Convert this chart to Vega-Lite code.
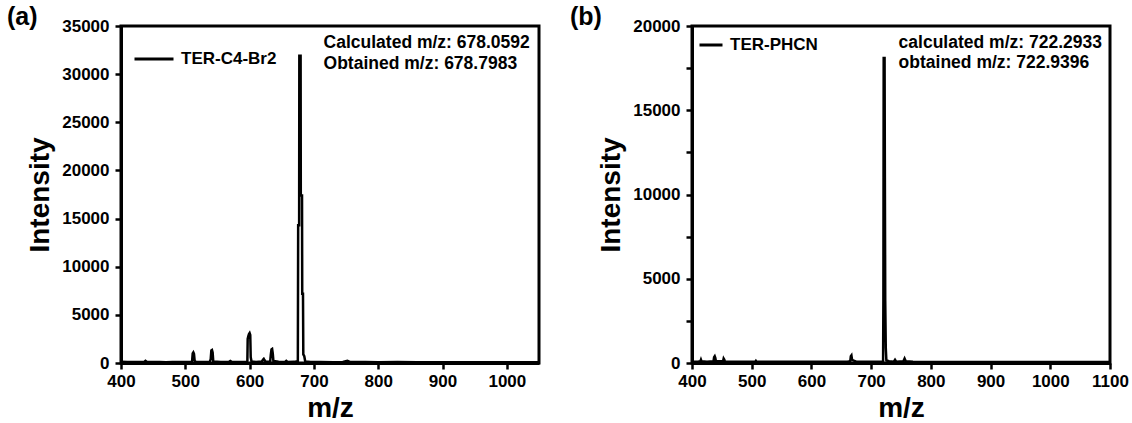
{
  "$schema": "https://vega.github.io/schema/vega-lite/v6.json",
  "autosize": {"type": "none"},
  "padding": {"left": 121, "top": 26, "right": 1011, "bottom": 397},
  "background": "white",
  "bounds": "flush",
  "spacing": 153,
  "config": {
    "font": "Liberation Sans",
    "view": {"stroke": "black", "strokeWidth": 3},
    "axis": {
      "grid": false,
      "domainColor": "black",
      "domainWidth": 3,
      "tickColor": "black",
      "tickWidth": 2.5,
      "tickSize": 6,
      "labelFont": "Liberation Sans",
      "labelFontWeight": "bold",
      "labelFontSize": 17,
      "labelColor": "black",
      "labelFlush": false,
      "labelOverlap": false,
      "titleFont": "Liberation Sans",
      "titleFontWeight": "bold",
      "titleFontSize": 28,
      "titleColor": "black",
      "format": "d"
    },
    "axisX": {"labelPadding": 4, "titlePadding": 5},
    "axisY": {"labelPadding": 6, "titlePadding": 7},
    "legend": {
      "orient": "top-left",
      "title": null,
      "symbolType": "stroke",
      "symbolStrokeWidth": 3,
      "labelFont": "Liberation Sans",
      "labelFontWeight": "bold",
      "labelFontSize": 17,
      "labelColor": "black",
      "padding": 0,
      "labelOffset": 6
    },
    "title": {"font": "Liberation Sans", "fontWeight": "bold", "fontSize": 25, "color": "black", "anchor": "start", "frame": "group"}
  },
  "resolve": {"scale": {"color": "independent"}, "legend": {"color": "independent"}},
  "datasets": {
    "a": [
      {"mz": 400, "intensity": 120, "sample": "TER-C4-Br2"},
      {"mz": 410, "intensity": 110, "sample": "TER-C4-Br2"},
      {"mz": 420, "intensity": 100, "sample": "TER-C4-Br2"},
      {"mz": 430, "intensity": 110, "sample": "TER-C4-Br2"},
      {"mz": 436, "intensity": 120, "sample": "TER-C4-Br2"},
      {"mz": 438, "intensity": 230, "sample": "TER-C4-Br2"},
      {"mz": 440, "intensity": 130, "sample": "TER-C4-Br2"},
      {"mz": 450, "intensity": 100, "sample": "TER-C4-Br2"},
      {"mz": 460, "intensity": 110, "sample": "TER-C4-Br2"},
      {"mz": 470, "intensity": 90, "sample": "TER-C4-Br2"},
      {"mz": 480, "intensity": 110, "sample": "TER-C4-Br2"},
      {"mz": 490, "intensity": 100, "sample": "TER-C4-Br2"},
      {"mz": 500, "intensity": 100, "sample": "TER-C4-Br2"},
      {"mz": 508, "intensity": 110, "sample": "TER-C4-Br2"},
      {"mz": 510.5, "intensity": 150, "sample": "TER-C4-Br2"},
      {"mz": 511.5, "intensity": 1000, "sample": "TER-C4-Br2"},
      {"mz": 512.5, "intensity": 1100, "sample": "TER-C4-Br2"},
      {"mz": 513.5, "intensity": 950, "sample": "TER-C4-Br2"},
      {"mz": 514.5, "intensity": 250, "sample": "TER-C4-Br2"},
      {"mz": 516, "intensity": 120, "sample": "TER-C4-Br2"},
      {"mz": 525, "intensity": 100, "sample": "TER-C4-Br2"},
      {"mz": 538, "intensity": 110, "sample": "TER-C4-Br2"},
      {"mz": 539.5, "intensity": 400, "sample": "TER-C4-Br2"},
      {"mz": 540.5, "intensity": 1300, "sample": "TER-C4-Br2"},
      {"mz": 541.5, "intensity": 1350, "sample": "TER-C4-Br2"},
      {"mz": 542.5, "intensity": 1100, "sample": "TER-C4-Br2"},
      {"mz": 543.5, "intensity": 150, "sample": "TER-C4-Br2"},
      {"mz": 555, "intensity": 100, "sample": "TER-C4-Br2"},
      {"mz": 568, "intensity": 120, "sample": "TER-C4-Br2"},
      {"mz": 570, "intensity": 210, "sample": "TER-C4-Br2"},
      {"mz": 572, "intensity": 120, "sample": "TER-C4-Br2"},
      {"mz": 585, "intensity": 100, "sample": "TER-C4-Br2"},
      {"mz": 595, "intensity": 100, "sample": "TER-C4-Br2"},
      {"mz": 596.5, "intensity": 200, "sample": "TER-C4-Br2"},
      {"mz": 597, "intensity": 2500, "sample": "TER-C4-Br2"},
      {"mz": 598, "intensity": 2800, "sample": "TER-C4-Br2"},
      {"mz": 599, "intensity": 3000, "sample": "TER-C4-Br2"},
      {"mz": 600, "intensity": 3100, "sample": "TER-C4-Br2"},
      {"mz": 601, "intensity": 2900, "sample": "TER-C4-Br2"},
      {"mz": 601.7, "intensity": 600, "sample": "TER-C4-Br2"},
      {"mz": 603, "intensity": 150, "sample": "TER-C4-Br2"},
      {"mz": 610, "intensity": 100, "sample": "TER-C4-Br2"},
      {"mz": 619, "intensity": 150, "sample": "TER-C4-Br2"},
      {"mz": 621, "intensity": 350, "sample": "TER-C4-Br2"},
      {"mz": 622, "intensity": 420, "sample": "TER-C4-Br2"},
      {"mz": 623, "intensity": 300, "sample": "TER-C4-Br2"},
      {"mz": 625, "intensity": 120, "sample": "TER-C4-Br2"},
      {"mz": 632, "intensity": 150, "sample": "TER-C4-Br2"},
      {"mz": 633, "intensity": 900, "sample": "TER-C4-Br2"},
      {"mz": 634, "intensity": 1400, "sample": "TER-C4-Br2"},
      {"mz": 635, "intensity": 1450, "sample": "TER-C4-Br2"},
      {"mz": 636, "intensity": 1000, "sample": "TER-C4-Br2"},
      {"mz": 637, "intensity": 200, "sample": "TER-C4-Br2"},
      {"mz": 645, "intensity": 120, "sample": "TER-C4-Br2"},
      {"mz": 655, "intensity": 100, "sample": "TER-C4-Br2"},
      {"mz": 657, "intensity": 220, "sample": "TER-C4-Br2"},
      {"mz": 659, "intensity": 100, "sample": "TER-C4-Br2"},
      {"mz": 670, "intensity": 120, "sample": "TER-C4-Br2"},
      {"mz": 675, "intensity": 200, "sample": "TER-C4-Br2"},
      {"mz": 675.5, "intensity": 14300, "sample": "TER-C4-Br2"},
      {"mz": 677, "intensity": 14300, "sample": "TER-C4-Br2"},
      {"mz": 677.3, "intensity": 31900, "sample": "TER-C4-Br2"},
      {"mz": 679.3, "intensity": 31900, "sample": "TER-C4-Br2"},
      {"mz": 679.6, "intensity": 17400, "sample": "TER-C4-Br2"},
      {"mz": 681.5, "intensity": 17400, "sample": "TER-C4-Br2"},
      {"mz": 681.8, "intensity": 7200, "sample": "TER-C4-Br2"},
      {"mz": 683, "intensity": 7200, "sample": "TER-C4-Br2"},
      {"mz": 683.5, "intensity": 900, "sample": "TER-C4-Br2"},
      {"mz": 685, "intensity": 700, "sample": "TER-C4-Br2"},
      {"mz": 686.5, "intensity": 150, "sample": "TER-C4-Br2"},
      {"mz": 695, "intensity": 100, "sample": "TER-C4-Br2"},
      {"mz": 710, "intensity": 100, "sample": "TER-C4-Br2"},
      {"mz": 730, "intensity": 90, "sample": "TER-C4-Br2"},
      {"mz": 745, "intensity": 100, "sample": "TER-C4-Br2"},
      {"mz": 752, "intensity": 220, "sample": "TER-C4-Br2"},
      {"mz": 756, "intensity": 110, "sample": "TER-C4-Br2"},
      {"mz": 780, "intensity": 100, "sample": "TER-C4-Br2"},
      {"mz": 800, "intensity": 90, "sample": "TER-C4-Br2"},
      {"mz": 830, "intensity": 100, "sample": "TER-C4-Br2"},
      {"mz": 860, "intensity": 90, "sample": "TER-C4-Br2"},
      {"mz": 900, "intensity": 80, "sample": "TER-C4-Br2"},
      {"mz": 950, "intensity": 90, "sample": "TER-C4-Br2"},
      {"mz": 1000, "intensity": 80, "sample": "TER-C4-Br2"},
      {"mz": 1050, "intensity": 80, "sample": "TER-C4-Br2"}
    ],
    "b": [
      {"mz": 400, "intensity": 80, "sample": "TER-PHCN"},
      {"mz": 410, "intensity": 80, "sample": "TER-PHCN"},
      {"mz": 414, "intensity": 100, "sample": "TER-PHCN"},
      {"mz": 415, "intensity": 200, "sample": "TER-PHCN"},
      {"mz": 416, "intensity": 100, "sample": "TER-PHCN"},
      {"mz": 425, "intensity": 80, "sample": "TER-PHCN"},
      {"mz": 436, "intensity": 100, "sample": "TER-PHCN"},
      {"mz": 437, "intensity": 350, "sample": "TER-PHCN"},
      {"mz": 438, "intensity": 400, "sample": "TER-PHCN"},
      {"mz": 439, "intensity": 300, "sample": "TER-PHCN"},
      {"mz": 440, "intensity": 100, "sample": "TER-PHCN"},
      {"mz": 452, "intensity": 100, "sample": "TER-PHCN"},
      {"mz": 453, "intensity": 260, "sample": "TER-PHCN"},
      {"mz": 454, "intensity": 200, "sample": "TER-PHCN"},
      {"mz": 455, "intensity": 90, "sample": "TER-PHCN"},
      {"mz": 470, "intensity": 80, "sample": "TER-PHCN"},
      {"mz": 490, "intensity": 80, "sample": "TER-PHCN"},
      {"mz": 506, "intensity": 80, "sample": "TER-PHCN"},
      {"mz": 507, "intensity": 130, "sample": "TER-PHCN"},
      {"mz": 508, "intensity": 80, "sample": "TER-PHCN"},
      {"mz": 530, "intensity": 70, "sample": "TER-PHCN"},
      {"mz": 560, "intensity": 70, "sample": "TER-PHCN"},
      {"mz": 600, "intensity": 70, "sample": "TER-PHCN"},
      {"mz": 630, "intensity": 70, "sample": "TER-PHCN"},
      {"mz": 660, "intensity": 80, "sample": "TER-PHCN"},
      {"mz": 665, "intensity": 100, "sample": "TER-PHCN"},
      {"mz": 666, "intensity": 400, "sample": "TER-PHCN"},
      {"mz": 667, "intensity": 450, "sample": "TER-PHCN"},
      {"mz": 668, "intensity": 200, "sample": "TER-PHCN"},
      {"mz": 670, "intensity": 150, "sample": "TER-PHCN"},
      {"mz": 672, "intensity": 130, "sample": "TER-PHCN"},
      {"mz": 675, "intensity": 80, "sample": "TER-PHCN"},
      {"mz": 700, "intensity": 70, "sample": "TER-PHCN"},
      {"mz": 718, "intensity": 70, "sample": "TER-PHCN"},
      {"mz": 720, "intensity": 100, "sample": "TER-PHCN"},
      {"mz": 720.5, "intensity": 3700, "sample": "TER-PHCN"},
      {"mz": 721, "intensity": 18100, "sample": "TER-PHCN"},
      {"mz": 722.5, "intensity": 18100, "sample": "TER-PHCN"},
      {"mz": 723, "intensity": 11000, "sample": "TER-PHCN"},
      {"mz": 723.6, "intensity": 3700, "sample": "TER-PHCN"},
      {"mz": 724.5, "intensity": 900, "sample": "TER-PHCN"},
      {"mz": 725.5, "intensity": 150, "sample": "TER-PHCN"},
      {"mz": 730, "intensity": 100, "sample": "TER-PHCN"},
      {"mz": 738, "intensity": 80, "sample": "TER-PHCN"},
      {"mz": 740, "intensity": 190, "sample": "TER-PHCN"},
      {"mz": 742, "intensity": 80, "sample": "TER-PHCN"},
      {"mz": 754, "intensity": 100, "sample": "TER-PHCN"},
      {"mz": 756, "intensity": 260, "sample": "TER-PHCN"},
      {"mz": 758, "intensity": 100, "sample": "TER-PHCN"},
      {"mz": 770, "intensity": 70, "sample": "TER-PHCN"},
      {"mz": 800, "intensity": 60, "sample": "TER-PHCN"},
      {"mz": 850, "intensity": 60, "sample": "TER-PHCN"},
      {"mz": 900, "intensity": 60, "sample": "TER-PHCN"},
      {"mz": 1000, "intensity": 60, "sample": "TER-PHCN"},
      {"mz": 1100, "intensity": 60, "sample": "TER-PHCN"}
    ],
    "ann_a": [
      {"mz": 715, "intensity": 33250, "label": "Calculated m/z: 678.0592"},
      {"mz": 715, "intensity": 31100, "label": "Obtained m/z: 678.7983"}
    ],
    "ann_b": [
      {"mz": 746, "intensity": 19000, "label": "calculated m/z: 722.2933"},
      {"mz": 746, "intensity": 17800, "label": "obtained m/z: 722.9396"}
    ]
  },
  "hconcat": [
    {
      "width": 418,
      "height": 337,
      "title": {"text": "(a)", "dx": -114, "dy": 17, "offset": 4},
      "layer": [
        {
          "data": {"name": "a"},
          "mark": {"type": "line", "strokeWidth": 2.5, "clip": true},
          "encoding": {
            "x": {
              "field": "mz", "type": "quantitative",
              "scale": {"domain": [400, 1050], "nice": false, "zero": false},
              "axis": {
                "title": "m/z",
                "values": [400, 450, 500, 550, 600, 650, 700, 750, 800, 850, 900, 950, 1000, 1050],
                "labelExpr": "datum.value % 100 === 0 ? datum.label : ''",
                "encode": {"ticks": {"update": {"y2": {"signal": "datum.value % 100 === 0 ? 6 : 3"}}}}
              }
            },
            "y": {
              "field": "intensity", "type": "quantitative",
              "scale": {"domain": [0, 35000], "nice": false},
              "axis": {
                "title": "Intensity",
                "values": [0, 2500, 5000, 7500, 10000, 12500, 15000, 17500, 20000, 22500, 25000, 27500, 30000, 32500, 35000],
                "labelExpr": "datum.value % 5000 === 0 ? datum.label : ''",
                "encode": {"ticks": {"update": {"x2": {"signal": "datum.value % 5000 === 0 ? -6 : -3"}}}}
              }
            },
            "color": {
              "field": "sample", "type": "nominal",
              "scale": {"range": ["black"]},
              "legend": {"symbolSize": 1521, "offset": 12}
            }
          }
        },
        {
          "data": {"name": "ann_a"},
          "mark": {"type": "text", "align": "left", "baseline": "middle", "font": "Liberation Sans", "fontWeight": "bold", "fontSize": 17.5, "color": "black"},
          "encoding": {
            "x": {"field": "mz", "type": "quantitative"},
            "y": {"field": "intensity", "type": "quantitative"},
            "text": {"field": "label"}
          }
        }
      ]
    },
    {
      "width": 418,
      "height": 337,
      "title": {"text": "(b)", "dx": -122, "dy": 17, "offset": 4},
      "layer": [
        {
          "data": {"name": "b"},
          "mark": {"type": "line", "strokeWidth": 2.5, "clip": true},
          "encoding": {
            "x": {
              "field": "mz", "type": "quantitative",
              "scale": {"domain": [400, 1100], "nice": false, "zero": false},
              "axis": {
                "title": "m/z",
                "values": [400, 450, 500, 550, 600, 650, 700, 750, 800, 850, 900, 950, 1000, 1050, 1100],
                "labelExpr": "datum.value % 100 === 0 ? datum.label : ''",
                "encode": {"ticks": {"update": {"y2": {"signal": "datum.value % 100 === 0 ? 6 : 3"}}}}
              }
            },
            "y": {
              "field": "intensity", "type": "quantitative",
              "scale": {"domain": [0, 20000], "nice": false},
              "axis": {
                "title": "Intensity",
                "values": [0, 2500, 5000, 7500, 10000, 12500, 15000, 17500, 20000],
                "labelExpr": "datum.value % 5000 === 0 ? datum.label : ''",
                "encode": {"ticks": {"update": {"x2": {"signal": "datum.value % 5000 === 0 ? -6 : -3"}}}}
              }
            },
            "color": {
              "field": "sample", "type": "nominal",
              "scale": {"range": ["black"]},
              "legend": {"symbolSize": 529, "offset": 6}
            }
          }
        },
        {
          "data": {"name": "ann_b"},
          "mark": {"type": "text", "align": "left", "baseline": "middle", "font": "Liberation Sans", "fontWeight": "bold", "fontSize": 17.5, "color": "black"},
          "encoding": {
            "x": {"field": "mz", "type": "quantitative"},
            "y": {"field": "intensity", "type": "quantitative"},
            "text": {"field": "label"}
          }
        }
      ]
    }
  ]
}
